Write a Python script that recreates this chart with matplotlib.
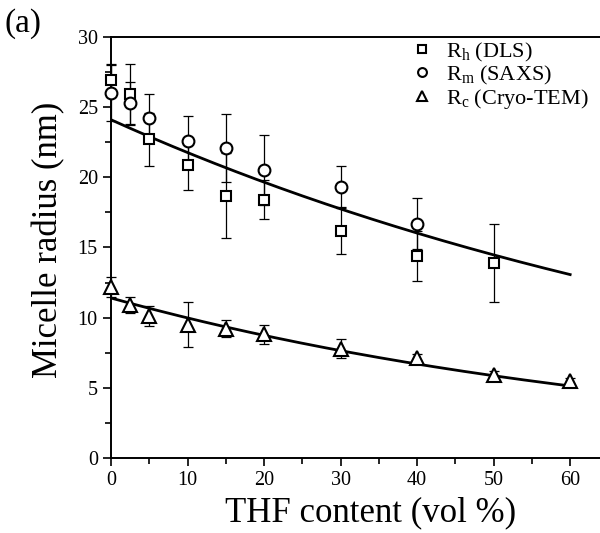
import numpy as np
import matplotlib
matplotlib.use("Agg")
from matplotlib import pyplot as plt
from matplotlib.ticker import MultipleLocator

plt.rcParams['font.family'] = ['Liberation Serif', 'DejaVu Serif']
plt.rcParams['mathtext.fontset'] = 'custom'
plt.rcParams['mathtext.rm'] = 'Liberation Serif'
plt.rcParams['mathtext.it'] = 'Liberation Serif'

# THF content (vol %)
x_dls = [0, 2.5, 5, 10, 15, 20, 30, 40, 50]
rh = [26.9, 25.9, 22.7, 20.9, 18.7, 18.4, 16.2, 14.4, 13.9]
rh_err = [1.2, 2.2, 1.9, 1.8, 3.0, 1.4, 1.7, 1.8, 2.8]

x_saxs = [0, 2.5, 5, 10, 15, 20, 30, 40]
rm = [26.0, 25.3, 24.2, 22.6, 22.1, 20.5, 19.3, 16.7]
rm_err = [2.0, 1.5, 1.7, 1.8, 2.4, 2.5, 1.5, 1.8]

x_tem = [0, 2.5, 5, 10, 15, 20, 30, 40, 50, 60]
rc = [12.2, 10.9, 10.1, 9.5, 9.2, 8.8, 7.8, 7.1, 5.9, 5.5]
rc_err = [0.7, 0.6, 0.7, 1.6, 0.6, 0.65, 0.7, 0.3, 0.3, 0.2]

# exponential decay fits  r = a * exp(-k * x)
fit_upper = (24.1, 0.0102)
fit_lower = (11.4, 0.0133)
fit_range = (0, 60)

fig = plt.figure(figsize=(6, 5.33), dpi=100)
ax = fig.add_axes([0.185, 0.1407, 0.815, 0.79])

xf = np.linspace(fit_range[0], fit_range[1], 200)
for a, k in (fit_upper, fit_lower):
    ax.plot(xf, a * np.exp(-k * xf), color='black', lw=2.0, zorder=2)

ekw = dict(fmt='none', ecolor='black', elinewidth=0.9, capsize=3.5, capthick=0.9, zorder=3)
for xs, ys, es in ((x_dls, rh, rh_err), (x_saxs, rm, rm_err), (x_tem, rc, rc_err)):
    eb = ax.errorbar(xs, ys, yerr=es, **ekw)
    for art in eb.lines[1] + eb.lines[2]:
        art.set_clip_on(False)

mkw = dict(linestyle='none', mfc='white', mec='black', mew=1.5, zorder=4, clip_on=False)
ax.plot(x_dls, rh, marker='s', ms=7.5, label=r'R$_{\mathrm{h}}$ (DLS)', **mkw)
ax.plot(x_saxs, rm, marker='o', ms=8.5, label=r'R$_{\mathrm{m}}$ (SAXS)', **mkw)
ax.plot(x_tem, rc, marker='^', ms=9.5, label=r'R$_{\mathrm{c}}$ (Cryo-TEM)', **mkw)

ax.set_xlim(0, 63.9)
ax.set_ylim(0, 30)
ax.xaxis.set_major_locator(MultipleLocator(10))
ax.xaxis.set_minor_locator(MultipleLocator(5))
ax.yaxis.set_major_locator(MultipleLocator(5))
ax.yaxis.set_minor_locator(MultipleLocator(2.5))
ax.tick_params(which='major', direction='out', length=6, width=1.2, labelsize=14.5, top=False, right=False)
ax.tick_params(which='minor', direction='out', length=4, width=1.2, top=False, right=False)
ax.spines['right'].set_visible(False)
for s in ('left', 'bottom', 'top'):
    ax.spines[s].set_linewidth(1.4)

ax.set_xlabel('THF content (vol %)', fontsize=25)
ax.set_ylabel('Micelle radius (nm)', fontsize=25)
ax.xaxis.set_label_coords(0.53, -0.09)
ax.yaxis.set_label_coords(-0.094, 0.518)

leg = ax.legend(loc='upper right', bbox_to_anchor=(1.0, 1.018), frameon=False, fontsize=16,
                handlelength=1.2, handletextpad=0.5, labelspacing=0.0, borderaxespad=0.1,
                markerscale=0.75)

fig.text(0.008, 0.985, '(a)', fontsize=24, ha='left', va='top')

fig.savefig('out.png', dpi=100)
